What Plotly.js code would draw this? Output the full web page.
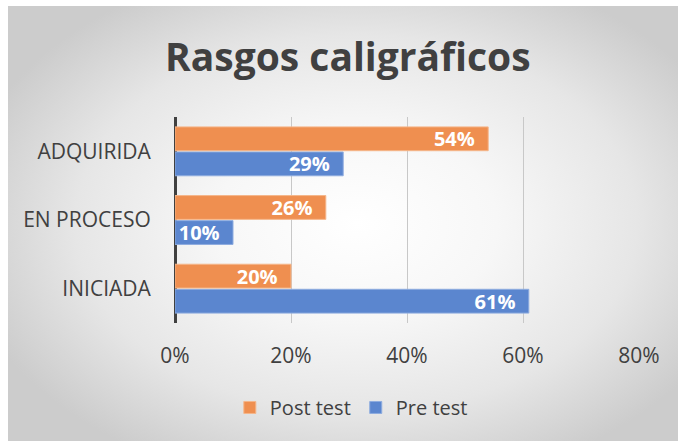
<!DOCTYPE html>
<html>
<head>
<meta charset="utf-8">
<script src="https://cdn.plot.ly/plotly-3.0.1.min.js"></script>
<style>
  html, body { margin: 0; padding: 0; background: #ffffff; }
  #wrap { position: absolute; left: 0; top: 0; width: 678px; height: 441px; overflow: hidden; background: #ffffff; }
  #bg { position: absolute; left: 8px; top: 6px; width: 670px; height: 435px;
        background: radial-gradient(ellipse 60% 62% at 52% 50%, #ffffff 0%, #f7f7f7 35%, #e6e6e6 70%, #cccccc 100%); }
  #chart { position: absolute; left: 0; top: 0; width: 678px; height: 441px; }
</style>
</head>
<body>
<div id="wrap"><div id="bg"></div><div id="chart"></div></div>
<script>
const categories = ["INICIADA", "EN PROCESO", "ADQUIRIDA"];
const preTest = [0.61, 0.10, 0.29];
const postTest = [0.20, 0.26, 0.54];
const seriesNames = ["Pre test", "Post test"];
const xTickVals = [0, 0.2, 0.4, 0.6, 0.8];
const xTickText = ["0%", "20%", "40%", "60%", "80%"];

const labelFont = { family: "Open Sans, sans-serif", size: 20, color: "#ffffff", weight: 700 };
const common = {
  type: "bar", orientation: "h", y: categories,
  textposition: "inside", insidetextanchor: "end",
  texttemplate: "<b>%{x:.0%}</b>\u00a0\u00a0",
  textfont: labelFont, constraintext: "none", hoverinfo: "skip", cliponaxis: false
};
const traces = [
  Object.assign({}, common, { name: seriesNames[0], x: preTest,
    marker: { color: "#5b86cf", line: { color: "#8eacdf", width: 1 } } }),
  Object.assign({}, common, { name: seriesNames[1], x: postTest,
    marker: { color: "#ef8f50", line: { color: "#f5b68a", width: 1 } } })
];

const layout = {
  width: 678, height: 441,
  margin: { l: 175, r: 39, t: 117, b: 118, pad: 0 },
  paper_bgcolor: "rgba(0,0,0,0)", plot_bgcolor: "rgba(0,0,0,0)",
  barmode: "group", bargap: 0.27, bargroupgap: 0.05,
  title: { text: "<b>Rasgos caligráficos</b>", x: 0.513, xanchor: "center", xref: "container",
           y: 0.87, yanchor: "middle", yref: "container",
           font: { family: "Open Sans, sans-serif", size: 39, color: "#404040" } },
  xaxis: { range: [0, 0.8], tickvals: xTickVals, ticktext: xTickText,
           showgrid: true, gridcolor: "#c8c8c8", gridwidth: 1,
           zeroline: true, zerolinecolor: "#404040", zerolinewidth: 3,
           showline: false, ticks: "outside", ticklen: 14, tickcolor: "rgba(0,0,0,0)",
           tickfont: { family: "Open Sans, sans-serif", size: 21, color: "#404040" }, fixedrange: true },
  yaxis: { type: "category", categoryorder: "array", categoryarray: categories,
           range: [-0.5, 2.5], showgrid: false, zeroline: false, showline: false,
           ticks: "outside", ticklen: 19, tickcolor: "rgba(0,0,0,0)",
           tickfont: { family: "Open Sans, sans-serif", size: 21, color: "#404040" }, fixedrange: true },
  showlegend: true,
  legend: { orientation: "h", traceorder: "reversed", x: 0.38, xanchor: "center",
            y: -0.41, yanchor: "middle", bgcolor: "rgba(0,0,0,0)",
            font: { family: "Open Sans, sans-serif", size: 20, color: "#404040" },
            itemwidth: 30 }
};

Plotly.newPlot("chart", traces, layout, { displayModeBar: false, staticPlot: true });
</script>
</body>
</html>
